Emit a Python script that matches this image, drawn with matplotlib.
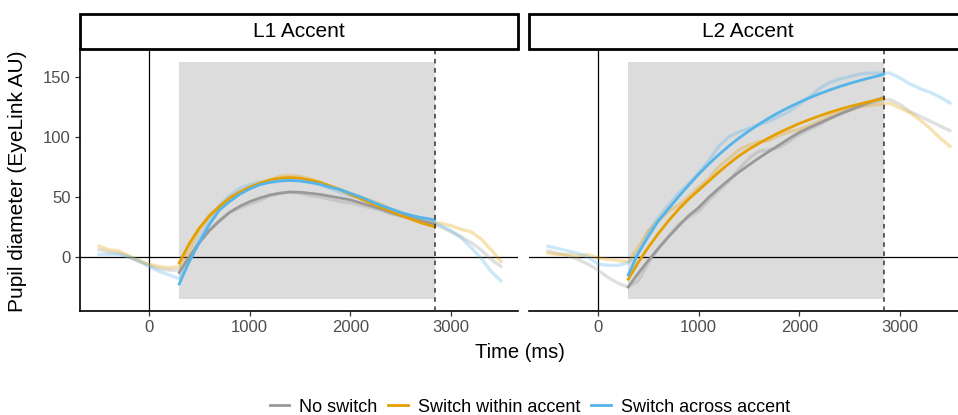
import numpy as np
import matplotlib
matplotlib.use("Agg")
from matplotlib import pyplot as plt
from matplotlib.patches import Rectangle
from matplotlib.lines import Line2D

plt.rcParams['font.family'] = ['Liberation Sans', 'DejaVu Sans']

panels = ["L1 Accent", "L2 Accent"]
conditions = ["No switch", "Switch within accent", "Switch across accent"]
colors = ["#999999", "#E69F00", "#56B4E9"]

# raw averaged traces, -500..3500 ms every 100 ms
raw_time = list(range(-500, 3501, 100))
raw_l1_none = [6, 4, 3, 0, -4, -7, -10, -11, -11, -2, 12, 22, 30, 37, 41, 44, 47, 51, 53, 54,
               53, 51, 50, 48, 46, 45, 43, 41, 39, 36, 34, 32, 30, 28, 25, 21, 17, 12, 6, -2, -8]
raw_l1_within = [9, 6, 5, 1, -3, -6, -8, -9, -8, 5, 22, 35, 42, 47, 53, 58, 62, 64, 67, 68,
                 67, 65, 62, 59, 56, 53, 50, 47, 44, 40, 37, 34, 31, 29, 28, 26, 23, 21, 15, 6, -4]
raw_l1_across = [2, 2, 2, 0, -3, -8, -12, -15, -18, -3, 15, 30, 43, 51, 57, 60, 62, 62, 63, 64,
                 63, 62, 60, 57, 54, 51, 49, 46, 43, 40, 37, 34, 32, 30, 26, 22, 16, 8, -1, -12, -20]
raw_l2_none = [5, 3, 1, -2, -6, -11, -17, -22, -25, -20, -5, 7, 17, 27, 33, 38, 47, 55, 63, 73,
               82, 88, 89, 91, 96, 102, 106, 110, 115, 119, 122, 125, 128, 130, 131, 127, 121, 117, 113, 109, 105]
raw_l2_within = [3, 2, 2, 1, 2, -1, -2, -3, -4, 8, 22, 30, 38, 43, 50, 58, 65, 75, 82, 89,
                 93, 96, 97, 101, 104, 106, 109, 113, 117, 120, 122, 125, 126, 127, 128, 124, 120, 114, 107, 99, 92]
raw_l2_across = [9, 7, 5, 3, 0, -6, -7, -7, -5, 3, 20, 33, 43, 53, 61, 70, 80, 92, 100, 104,
                 107, 110, 113, 117, 121, 127, 133, 140, 145, 148, 150, 152, 153, 153, 153, 149, 144, 140, 137, 133, 128]

# model fits, 300..2800 ms every 100 ms, then 2840 ms
fit_time = list(range(300, 2801, 100)) + [2840]
fit_l1_none = [-13, 0, 12, 22, 30, 37, 42, 46, 49, 51.5, 53, 54, 53.8, 53, 52, 50.5, 49, 47.5,
               45, 42.5, 40, 37, 34.5, 32.5, 30, 28, 27.5]
fit_l1_within = [-5, 11, 24, 34, 42, 49, 54, 58, 61, 64, 65.5, 66, 65.5, 64, 62, 59, 56, 52,
                 48.5, 45, 41.5, 38, 34.5, 31.5, 28.5, 26, 25]
fit_l1_across = [-22.5, -4, 12, 27, 39, 46, 52, 56.5, 60, 62, 63.3, 63.6, 63.3, 62, 60.5, 58,
                 56, 53, 50, 46.5, 43, 40, 37, 34.7, 32.8, 31.4, 30.8]
fit_l2_none = [-25, -13.7, -3, 7.1, 16.6, 25.6, 34.2, 41, 49.5, 57, 64, 70.5, 76.5, 82.3, 87.8,
               93, 98.5, 103.5, 107.5, 111.3, 115, 118.6, 122.1, 125.5, 128.6, 131.6, 132.5]
fit_l2_within = [-18.6, -4.5, 8, 19.5, 30, 39.5, 48, 55.5, 63, 70.5, 77.5, 84, 89.5, 94.5, 99.1,
                 103.4, 107.3, 111, 114.2, 117.3, 120.1, 122.7, 125.1, 127.2, 129.3, 131.1, 132]
fit_l2_across = [-15, 3, 17, 30, 40, 50, 59.6, 68.8, 77.2, 85, 92.2, 98.8, 104.8, 110.4, 115.6,
                 120.3, 124.6, 128.6, 132.3, 135.7, 138.8, 141.7, 144.3, 146.7, 148.9, 151, 152]

raw_data = [[raw_l1_none, raw_l1_within, raw_l1_across],
            [raw_l2_none, raw_l2_within, raw_l2_across]]
fit_data = [[fit_l1_none, fit_l1_within, fit_l1_across],
            [fit_l2_none, fit_l2_within, fit_l2_across]]

win_start, win_end = 300, 2840
shade_lo, shade_hi = -35, 162
xticks = [0, 1000, 2000, 3000]
yticks = [0, 50, 100, 150]

W, H = 958, 415
fig = plt.figure(figsize=(W / 100, H / 100), dpi=100)

ax_left = [80, 529]
ax_w, ax_top, ax_bot = 438, 49, 311
strip_h = 35

for i, name in enumerate(panels):
    ax = fig.add_axes([ax_left[i] / W, 1 - ax_bot / H, ax_w / W, (ax_bot - ax_top) / H])
    ax.add_patch(Rectangle((win_start, shade_lo), win_end - win_start, shade_hi - shade_lo,
                           facecolor="#DCDCDC", edgecolor="none", zorder=0))
    ax.axvline(0, color="black", lw=0.9, zorder=1)
    ax.axhline(0, color="black", lw=0.9, zorder=1)
    for j in range(3):
        ax.plot(raw_time, raw_data[i][j], color=colors[j], lw=2.4, alpha=0.3,
                solid_capstyle="round", zorder=2)
    for j in range(3):
        ax.plot(fit_time, fit_data[i][j], color=colors[j], lw=2.0, zorder=3)
    ax.axvline(win_end, color="#333333", lw=1.1, ls=(0, (3, 3)), zorder=4)

    ax.set_xlim(-686, 3668)
    ax.set_ylim(-45, 173)
    ax.set_xticks(xticks)
    ax.set_yticks(yticks)
    for s in ["top", "right"]:
        ax.spines[s].set_visible(False)
    ax.spines["bottom"].set_linewidth(1.2)
    ax.spines["left"].set_linewidth(1.2)
    ax.tick_params(axis="both", length=3.5, width=0.9, color="#333333",
                   labelsize=12, labelcolor="#4D4D4D", pad=3)
    if i == 1:
        ax.spines["left"].set_visible(False)
        ax.tick_params(axis="y", left=False, labelleft=False)
    ax.set_facecolor("white")

    # facet strip
    h = strip_h / (ax_bot - ax_top)
    ax.add_patch(Rectangle((0, 1.0), 1, h, transform=ax.transAxes, facecolor="white",
                           edgecolor="black", lw=2.0, clip_on=False, zorder=5))
    ax.text(0.5, 1 + h / 2, name, transform=ax.transAxes, ha="center", va="center",
            fontsize=15, zorder=6)

fig.text(520 / W, 1 - 352 / H, "Time (ms)", ha="center", va="center", fontsize=14.5)
fig.text(18 / W, 1 - 181 / H, "Pupil diameter (EyeLink AU)", ha="center", va="center",
         rotation=90, fontsize=15)

handles = [Line2D([], [], color=c, lw=2.0) for c in colors]
fig.legend(handles, conditions, loc="center", bbox_to_anchor=(530 / W, 1 - 407 / H),
           ncol=3, frameon=False, fontsize=13, handlelength=1.1, handletextpad=0.55,
           columnspacing=0.6, borderpad=0.1)

fig.savefig("out.png", dpi=100)
